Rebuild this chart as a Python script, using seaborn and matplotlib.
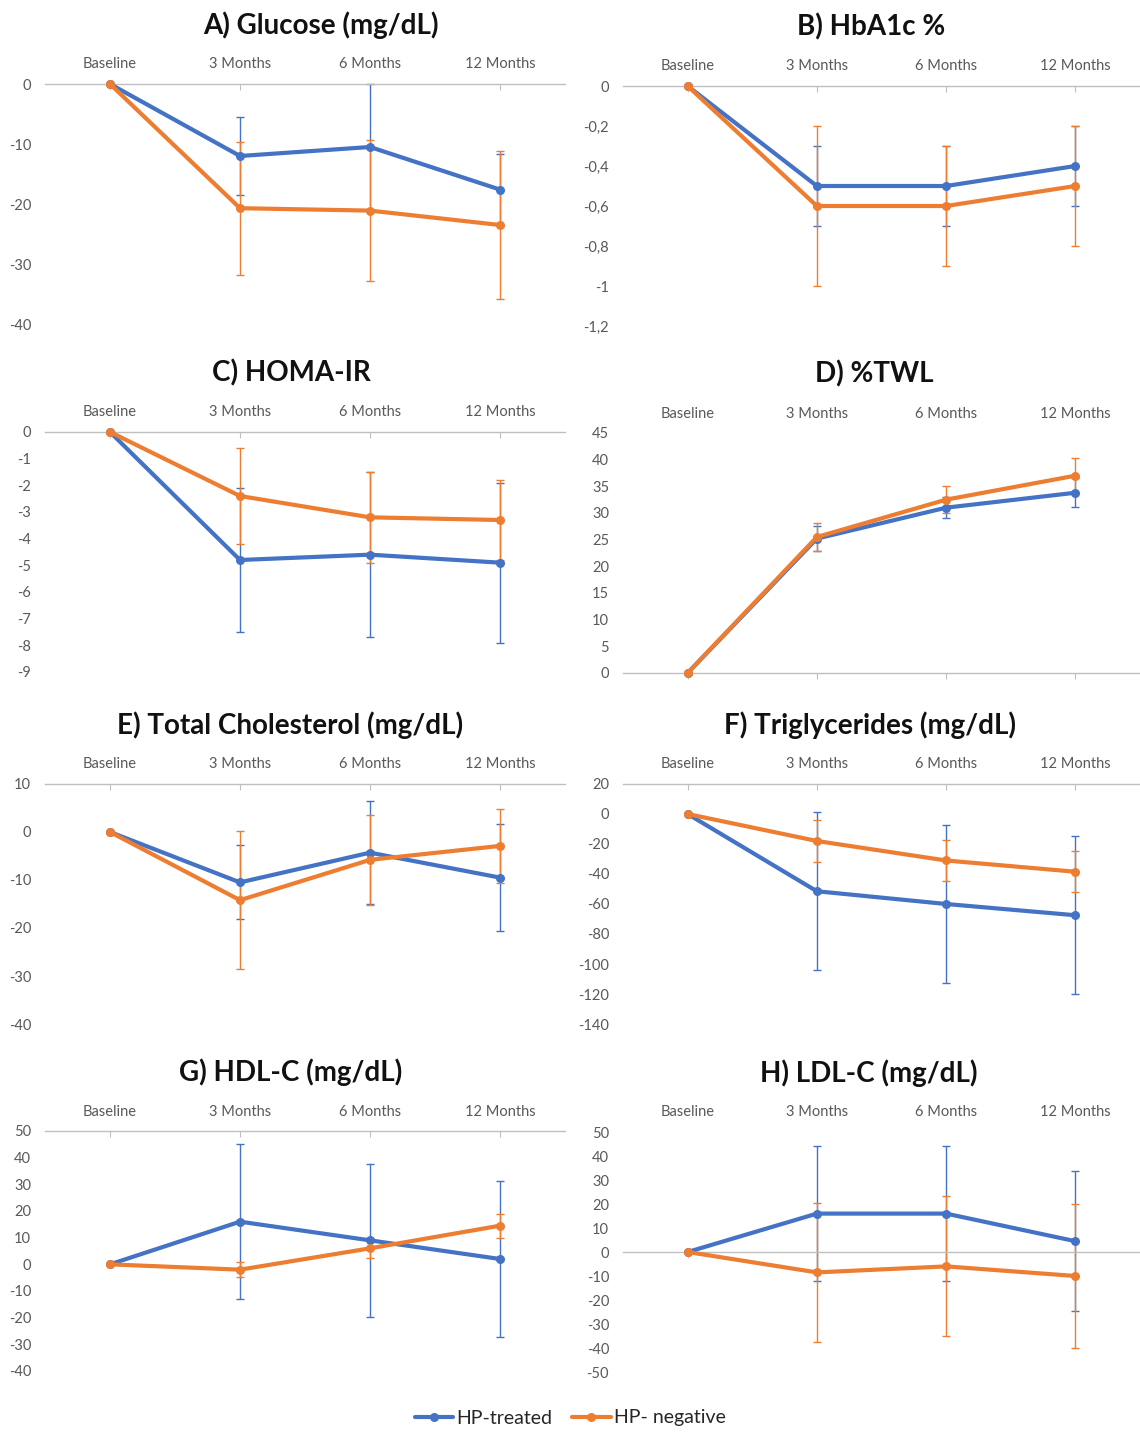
import numpy as np
import pandas as pd
import matplotlib
matplotlib.use("Agg")
import matplotlib.pyplot as plt
import seaborn as sns

# categories / series names
timepoints = ["Baseline", "3 Months", "6 Months", "12 Months"]
groups = ["HP-treated", "HP- negative"]

titles = ["A) Glucose (mg/dL)", "B) HbA1c %", "C) HOMA-IR", "D) %TWL",
          "E) Total Cholesterol (mg/dL)", "F) Triglycerides (mg/dL)",
          "G) HDL-C (mg/dL)", "H) LDL-C (mg/dL)"]

# mean change from baseline (treated / negative) and error bar half-widths
glucose_treated = [0, -12.0, -10.5, -17.6]
glucose_negative = [0, -20.7, -21.1, -23.5]
glucose_err_treated = [0, 6.5, 10.5, 6.0]
glucose_err_negative = [0, 11.1, 11.8, 12.3]

hba1c_treated = [0, -0.5, -0.5, -0.4]
hba1c_negative = [0, -0.6, -0.6, -0.5]
hba1c_err_treated = [0, 0.2, 0.2, 0.2]
hba1c_err_negative = [0, 0.4, 0.3, 0.3]

homa_treated = [0, -4.8, -4.6, -4.9]
homa_negative = [0, -2.4, -3.2, -3.3]
homa_err_treated = [0, 2.7, 3.1, 3.0]
homa_err_negative = [0, 1.8, 1.7, 1.5]

twl_treated = [0, 25.2, 31.0, 33.8]
twl_negative = [0, 25.5, 32.5, 37.0]
twl_err_treated = [0, 2.4, 2.0, 2.7]
twl_err_negative = [0, 2.7, 2.5, 3.3]

chol_treated = [0, -10.5, -4.3, -9.5]
chol_negative = [0, -14.2, -5.8, -2.9]
chol_err_treated = [0, 7.7, 10.8, 11.1]
chol_err_negative = [0, 14.4, 9.4, 7.7]

trig_treated = [0, -51.5, -60.0, -67.5]
trig_negative = [0, -18.0, -31.0, -38.5]
trig_err_treated = [0, 52.7, 52.5, 52.7]
trig_err_negative = [0, 14.3, 13.8, 13.5]

hdl_treated = [0, 16.0, 9.0, 2.0]
hdl_negative = [0, -2.0, 6.0, 14.5]
hdl_err_treated = [0, 29.0, 28.7, 29.2]
hdl_err_negative = [0, 2.7, 3.7, 4.5]

ldl_treated = [0, 16.0, 16.0, 4.5]
ldl_negative = [0, -8.5, -6.0, -10.0]
ldl_err_treated = [0, 28.2, 28.2, 29.2]
ldl_err_negative = [0, 29.0, 29.2, 30.2]

# y axis ticks per panel
glucose_ticks = [0, -10, -20, -30, -40]
hba1c_ticks = [0, -0.2, -0.4, -0.6, -0.8, -1, -1.2]
homa_ticks = [0, -1, -2, -3, -4, -5, -6, -7, -8, -9]
twl_ticks = [45, 40, 35, 30, 25, 20, 15, 10, 5, 0]
chol_ticks = [10, 0, -10, -20, -30, -40]
trig_ticks = [20, 0, -20, -40, -60, -80, -100, -120, -140]
hdl_ticks = [50, 40, 30, 20, 10, 0, -10, -20, -30, -40]
ldl_ticks = [50, 40, 30, 20, 10, 0, -10, -20, -30, -40, -50]

# where the category axis line crosses
axis_cross = [0, 0, 0, 0, 10, 20, 50, 0]

panels = [
    (glucose_treated, glucose_negative, glucose_err_treated, glucose_err_negative, glucose_ticks),
    (hba1c_treated, hba1c_negative, hba1c_err_treated, hba1c_err_negative, hba1c_ticks),
    (homa_treated, homa_negative, homa_err_treated, homa_err_negative, homa_ticks),
    (twl_treated, twl_negative, twl_err_treated, twl_err_negative, twl_ticks),
    (chol_treated, chol_negative, chol_err_treated, chol_err_negative, chol_ticks),
    (trig_treated, trig_negative, trig_err_treated, trig_err_negative, trig_ticks),
    (hdl_treated, hdl_negative, hdl_err_treated, hdl_err_negative, hdl_ticks),
    (ldl_treated, ldl_negative, ldl_err_treated, ldl_err_negative, ldl_ticks),
]

colors = ["#4472C4", "#ED7D31"]
text_gray = "#595959"
axis_gray = "#BFBFBF"

sns.set_style("white")
plt.rcParams["font.family"] = ["Lato", "DejaVu Sans"]

W, H = 1140, 1433
fig = plt.figure(figsize=(W / 100, H / 100), dpi=100)

# layout in pixels: (left, top, width) of each plot area, and title centre x
ax_px = [(45, 84, 520), (623, 86, 517), (45, 432, 520), (623, 433, 517),
         (45, 784, 520), (623, 784, 517), (45, 1131, 520), (623, 1132, 517)]
title_x = [321, 871, 291, 874, 290, 870, 291, 869]
ax_h = 240

axes = []
for i, (mt, mn, et, en, ticks) in enumerate(panels):
    left, top, width = ax_px[i]
    ax = fig.add_axes([left / W, 1 - (top + ax_h) / H, width / W, ax_h / H])
    axes.append(ax)

    pos = list(range(len(timepoints)))
    df = pd.DataFrame({
        "pos": pos * 2,
        "value": mt + mn,
        "group": [groups[0]] * len(pos) + [groups[1]] * len(pos),
    })

    ax.errorbar(pos, mt, yerr=et, fmt="none", ecolor=colors[0], elinewidth=1,
                capsize=3, capthick=1, zorder=2, clip_on=False)
    ax.errorbar(pos, mn, yerr=en, fmt="none", ecolor=colors[1], elinewidth=1,
                capsize=3, capthick=1, zorder=2.5, clip_on=False)
    sns.lineplot(data=df, x="pos", y="value", hue="group", hue_order=groups,
                 palette=colors, marker="o", markersize=6.5, markeredgewidth=0,
                 linewidth=3.0, ax=ax, legend=(i == 0), zorder=3, clip_on=False)

    ax.set_xlim(-0.5, 3.5)
    ax.set_ylim(min(ticks), max(ticks))
    ax.set_xlabel("")
    ax.set_ylabel("")

    ax.set_xticks(pos)
    ax.set_xticklabels(timepoints)
    ax.set_yticks(ticks)
    ax.set_yticklabels([f"{t:g}".replace(".", ",") for t in ticks])

    for s in ["left", "right", "top"]:
        ax.spines[s].set_visible(False)
    ax.spines["bottom"].set_position(("data", axis_cross[i]))
    ax.spines["bottom"].set_color(axis_gray)
    ax.spines["bottom"].set_linewidth(1)

    ax.tick_params(axis="x", bottom=True, top=False, labelbottom=False, labeltop=True,
                   direction="out", length=4, color=axis_gray, labelcolor=text_gray,
                   labelsize=10.5, pad=5)
    ax.tick_params(axis="y", length=0, pad=10, labelcolor=text_gray, labelsize=10.5)

    fig.text(title_x[i] / W, 1 - (top - 59) / H, titles[i], ha="center", va="center",
             fontsize=20, fontweight="bold", color="#111111")

handles, labels = axes[0].get_legend_handles_labels()
axes[0].get_legend().remove()
fig.legend(handles, labels, loc="center", bbox_to_anchor=(0.5, 1 - 1418 / H),
           ncol=2, frameon=False, fontsize=14, handlelength=2.0, columnspacing=1.0,
           handletextpad=0.15, labelcolor="#262626")

fig.savefig("out.png", dpi=100)
